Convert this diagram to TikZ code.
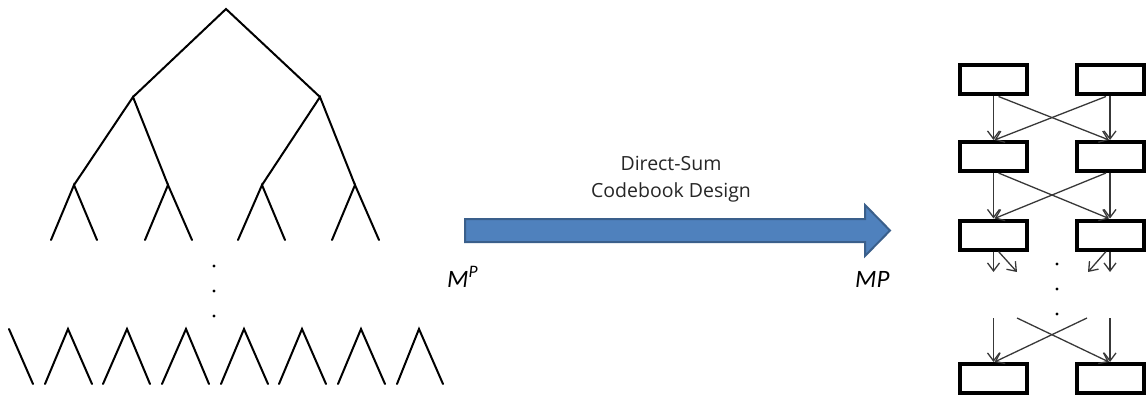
\documentclass[tikz,border=0pt]{standalone}
\usepackage{fontspec}
\setmainfont{Carlito}
\newfontfamily\capfont{Open Sans}
\usetikzlibrary{arrows.meta}
\definecolor{arrowfill}{HTML}{4F81BD}
\definecolor{arrowedge}{HTML}{3A5F8B}
\definecolor{linkgray}{HTML}{383838}
\tikzset{
  treeline/.style={line width=2pt, black, line cap=round},
  blockbox/.style={draw=black, line width=4pt, minimum width=67pt, minimum height=29pt, inner sep=0pt, fill=white},
  link/.style={draw=linkgray, line width=1.3pt, -{Straight Barb[length=8pt,width=12pt,line width=1.3pt]}},
  dotmark/.style={circle, fill=black, inner sep=0pt, minimum size=3.4pt},
  caption/.style={font=\capfont\fontsize{19.5}{27}\selectfont, align=center, text=black!85},
  mlabel/.style={font=\fontsize{25}{28}\selectfont\itshape, anchor=base west, inner sep=0pt}
}
\begin{document}
\begin{tikzpicture}[x=1pt, y=-1pt]
\useasboundingbox (0,0) rectangle (1146,401);
% ---- tree ----
\coordinate (r) at (226,9);
\coordinate (a1) at (133,97);
\coordinate (a2) at (320,97);
\coordinate (b1) at (74,185);
\coordinate (b2) at (168,185);
\coordinate (b3) at (262,185);
\coordinate (b4) at (355,185);
\foreach \i/\x in {1/51,2/97,3/145,4/192,5/238,6/285,7/332,8/379}
  \coordinate (c\i) at (\x,240);
\draw[treeline] (a1) -- (r) -- (a2);
\draw[treeline] (b1) -- (a1) -- (b2);
\draw[treeline] (b3) -- (a2) -- (b4);
\draw[treeline] (c1) -- (b1) -- (c2);
\draw[treeline] (c3) -- (b2) -- (c4);
\draw[treeline] (c5) -- (b3) -- (c6);
\draw[treeline] (c7) -- (b4) -- (c8);
\node[dotmark] (td1) at (214,266) {};
\node[dotmark] (td2) at (214,291) {};
\node[dotmark] (td3) at (214,316) {};
% bottom row
\coordinate (s0) at (9,329);
\coordinate (s1) at (33,384);
\draw[treeline] (s0) -- (s1);
\foreach \i/\p/\l/\r in {1/68/45/92, 2/127/103/150, 3/186/162/209, 4/244/221/268, 5/302/279/326, 6/361/338/385, 7/419/397/443}{
  \coordinate (p\i) at (\p,329);
  \coordinate (pl\i) at (\l,384);
  \coordinate (pr\i) at (\r,384);
  \draw[treeline] (pl\i) -- (p\i) -- (pr\i);
}
% ---- block arrow ----
\draw[fill=arrowfill, draw=arrowedge, line width=2pt, line join=miter]
  (465,219) -- (865,219) -- (865,205) -- (890,230.5) -- (865,256) -- (865,242) -- (465,242) -- cycle;
\node[caption] (cap) at (671,179) {Direct-Sum\\Codebook Design};
\node[mlabel] (mp1) at (447,287) {M\textsuperscript{P}};
\node[mlabel] (mp2) at (855,287) {MP};
% ---- right panel ----
\foreach \r/\y in {1/80, 2/156.5, 3/235, 4/378.5}{
  \node[blockbox] (L\r) at (993.5,\y) {};
  \node[blockbox] (R\r) at (1110,\y) {};
}
\foreach \a/\b in {1/2, 2/3}{
  \draw[link] (L\a.south) -- (L\b.north);
  \draw[link] (R\a.south) -- (R\b.north);
  \draw[link] ([xshift=5pt]L\a.south) -- ([xshift=-1pt]R\b.north);
  \draw[link] ([xshift=-4pt]R\a.south) -- ([xshift=1pt]L\b.north);
}
\coordinate (e1) at (993.5,272);
\coordinate (e2) at (1017,272);
\coordinate (e3) at (1088,272);
\coordinate (e4) at (1110,272);
\draw[link] (L3.south) -- (e1);
\draw[link] ([xshift=5pt]L3.south) -- (e2);
\draw[link] ([xshift=-4pt]R3.south) -- (e3);
\draw[link] (R3.south) -- (e4);
\node[dotmark] (rd1) at (1057,264) {};
\node[dotmark] (rd2) at (1057,289) {};
\node[dotmark] (rd3) at (1057,314) {};
\coordinate (f1) at (993.5,318);
\coordinate (f2) at (1017,318);
\coordinate (f3) at (1087,318);
\coordinate (f4) at (1110,318);
\draw[link] (f1) -- (L4.north);
\draw[link] (f2) -- ([xshift=-1pt]R4.north);
\draw[link] (f3) -- ([xshift=1pt]L4.north);
\draw[link] (f4) -- (R4.north);
\end{tikzpicture}
\end{document}
